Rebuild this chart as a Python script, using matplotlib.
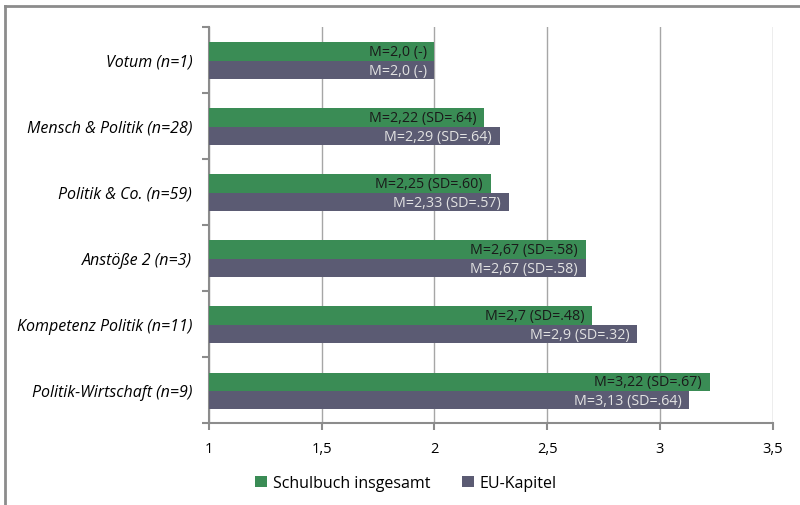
import numpy as np
import matplotlib.pyplot as plt
from matplotlib.lines import Line2D

CATEGORIES = ['Votum (n=1)', 'Mensch & Politik (n=28)', 'Politik & Co. (n=59)',
              'Anstöße 2 (n=3)', 'Kompetenz Politik (n=11)', 'Politik-Wirtschaft (n=9)']
SCHULBUCH = [2.0, 2.22, 2.25, 2.67, 2.7, 3.22]
EU_KAPITEL = [2.0, 2.29, 2.33, 2.67, 2.9, 3.13]
SCHULBUCH_LABELS = ['M=2,0 (-)', 'M=2,22 (SD=.64)', 'M=2,25 (SD=.60)',
                    'M=2,67 (SD=.58)', 'M=2,7 (SD=.48)', 'M=3,22 (SD=.67)']
EU_LABELS = ['M=2,0 (-)', 'M=2,29 (SD=.64)', 'M=2,33 (SD=.57)',
             'M=2,67 (SD=.58)', 'M=2,9 (SD=.32)', 'M=3,13 (SD=.64)']
X_TICKS = [1, 1.5, 2, 2.5, 3, 3.5]
X_TICK_LABELS = ['1', '1,5', '2', '2,5', '3', '3,5']

GREEN = '#3a8c55'
SLATE = '#5b5b73'
GRID = '#a6a6a6'

plt.rcParams['font.family'] = ['Open Sans', 'DejaVu Sans']

fig = plt.figure(figsize=(8, 5.06), dpi=100)
ax = fig.add_axes([0.261, 0.162, 0.705, 0.783])

n = len(CATEGORIES)
y = np.arange(n)[::-1].astype(float)
h = 0.28
base = 1.0
off = -0.015

ax.barh(y + h / 2 + off, np.array(SCHULBUCH) - base, left=base, height=h,
        color=GREEN, label='Schulbuch insgesamt', zorder=3)
ax.barh(y - h / 2 + off, np.array(EU_KAPITEL) - base, left=base, height=h,
        color=SLATE, label='EU-Kapitel', zorder=3)

for i in range(n):
    ax.text(SCHULBUCH[i] - 0.035, y[i] + h / 2 + off, SCHULBUCH_LABELS[i],
            ha='right', va='center', fontsize=10.3, color='#1a1a1a', zorder=4)
    ax.text(EU_KAPITEL[i] - 0.035, y[i] - h / 2 + off, EU_LABELS[i],
            ha='right', va='center', fontsize=10.3, color='#e2e2e2', zorder=4)

ax.set_xlim(1, 3.5)
ax.set_ylim(-0.5, n - 0.5)
ax.set_xticks(X_TICKS)
ax.set_xticklabels(X_TICK_LABELS, fontsize=10.5)
ax.set_yticks(y)
ax.set_yticklabels(CATEGORIES, fontsize=11.5, style='italic')
ax.set_yticks(np.arange(-0.5, n, 1.0), minor=True)
ax.tick_params(axis='y', which='major', length=0, pad=12)
ax.tick_params(axis='y', which='minor', length=5, color='#8c8c8c', width=1.5)
ax.tick_params(axis='x', length=5, color='#8c8c8c', width=1.5, pad=8)
ax.grid(axis='x', color=GRID, linewidth=1, zorder=0)

for side in ['top', 'right']:
    ax.spines[side].set_visible(False)
for side in ['left', 'bottom']:
    ax.spines[side].set_color('#8c8c8c')
    ax.spines[side].set_linewidth(1.5)

ax.legend(loc='upper center', bbox_to_anchor=(0.35, -0.095), ncol=2, frameon=False,
          fontsize=11.5, handlelength=0.7, handleheight=0.7, columnspacing=2.0,
          handletextpad=0.4)

# chart area border (left and top edges visible)
fig.add_artist(Line2D([0.0065, 0.0065], [0, 0.986], transform=fig.transFigure,
                      color='#8c8c8c', linewidth=2))
fig.add_artist(Line2D([0.0065, 1], [0.986, 0.986], transform=fig.transFigure,
                      color='#8c8c8c', linewidth=2))

fig.savefig('out.png', dpi=100)
